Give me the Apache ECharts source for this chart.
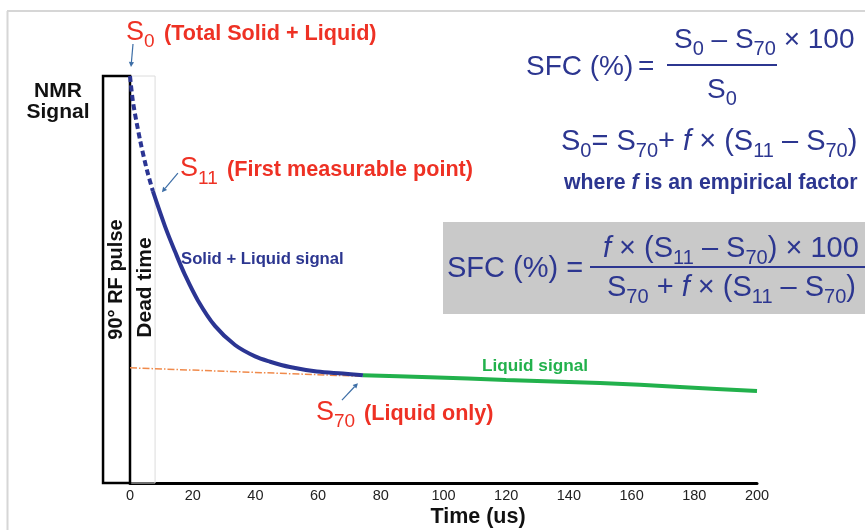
<!DOCTYPE html>
<html><head><meta charset="utf-8">
<script src="https://cdn.jsdelivr.net/npm/echarts@6/dist/echarts.min.js"></script>
<style>html,body{margin:0;padding:0;background:#fff}#c{width:865px;height:530px}</style>
</head><body><div id="c"></div>
<script>
// ---- data ----
const xTicks = [0, 20, 40, 60, 80, 100, 120, 140, 160, 180, 200];
const deadX = [0, 1.0, 3.2, 5.4, 7.3];
const deadY = [100, 93.4, 84.3, 76.9, 71.7];
const decayX = [7.3, 11.2, 14.4, 17.5, 21.7, 27.1, 33.5, 39.9, 44.7, 51.0, 59.6, 67.9, 74.3];
const decayY = [71.7, 63.0, 56.8, 51.2, 44.8, 38.6, 33.9, 31.1, 29.8, 28.5, 27.4, 26.9, 26.5];
const liquidX = [74.3, 95.7, 119.9, 149.9, 175.4, 200];
const liquidY = [26.5, 26.0, 25.3, 24.6, 23.6, 22.6];
const extrapX = [0, 74.3];
const extrapY = [28.3, 26.2];
const pulseBox = [-8.6, 0, 0, 100];   // x0, x1, y0, y1
const deadBox = [0, 8, 0, 100];
const pointS0 = [0, 100], pointS11 = [7.3, 71.7], pointS70 = [74.3, 26.5];

const zip = (xs, ys) => xs.map((x, i) => [x, ys[i]]);
const FF = "'Liberation Sans', Arial, Helvetica, sans-serif";
const NAVY = '#2c3690', RED = '#ee3124', GREEN = '#22b14c', CURVE = '#2b3593';

const cv = document.createElement('canvas').getContext('2d');
function fontStr(s, w, it) { return (it ? 'italic ' : '') + (w || 'normal') + ' ' + s + 'px ' + FF; }
function tw(t, s, w, it) { cv.font = fontStr(s, w, it); return cv.measureText(t).width; }
// text run with baseline alignment; pieces: {t, s, w, it, dy, x, gap}
function run(x, base, pieces, color, z) {
  const els = []; let cx = x;
  pieces.forEach(p => {
    if (p.x != null) cx = p.x;
    if (p.gap) cx += p.gap;
    const b = base + (p.dy || 0);
    els.push({ type: 'text', x: cx, y: b - 0.3465 * p.s, z: z || 50,
      style: { text: p.t, font: fontStr(p.s, p.w, p.it), fill: color, align: 'left', verticalAlign: 'middle' } });
    cx += tw(p.t, p.s, p.w, p.it);
  });
  return els;
}
function boxSeries(box, stroke, lw, z) {
  return { type: 'custom', clip: false, z: z, silent: true,
    data: [box],
    renderItem: (params, api) => {
      const a = api.coord([api.value(0), api.value(3)]);
      const b = api.coord([api.value(1), api.value(2)]);
      return { type: 'rect', shape: { x: a[0], y: a[1], width: b[0] - a[0], height: b[1] - a[1] },
        style: { fill: 'none', stroke: stroke, lineWidth: lw } };
    } };
}

const chart = echarts.init(document.getElementById('c'), null, { renderer: 'canvas' });
const option = {
  animation: false,
  backgroundColor: '#fff',
  grid: { left: 130, right: 108, top: 76, bottom: 47 },
  xAxis: { type: 'value', min: 0, max: 200, interval: 20,
    axisLine: { show: true, lineStyle: { color: '#000', width: 3 } },
    axisTick: { show: false }, splitLine: { show: false },
    axisLabel: { fontSize: 14.5, color: '#222', margin: 5, fontFamily: FF,
      customValues: xTicks } },
  yAxis: { type: 'value', min: 0, max: 100, show: false },
  series: [
    boxSeries(deadBox, '#dcdcdc', 1, 1),
    boxSeries(pulseBox, '#000', 2.5, 3),
    { type: 'line', data: zip(extrapX, extrapY), symbol: 'none', z: 4,
      lineStyle: { color: '#f08a4b', width: 1.5, type: [7, 2, 1.5, 2] } },
    { type: 'line', data: zip(deadX, deadY), symbol: 'none', smooth: 0.3, z: 5,
      lineStyle: { color: CURVE, width: 4, type: [6, 3.5] } },
    { type: 'line', data: zip(decayX, decayY), symbol: 'none', smooth: 0.35, z: 5,
      lineStyle: { color: CURVE, width: 4 } },
    { type: 'line', data: zip(liquidX, liquidY), symbol: 'none', smooth: 0.2, z: 5,
      lineStyle: { color: GREEN, width: 4 } }
  ]
};
chart.setOption(option);

function arrow(from, to, color) {
  const dx = to[0] - from[0], dy = to[1] - from[1], L = Math.hypot(dx, dy);
  const ux = dx / L, uy = dy / L, h = 5, w = 2.6;
  const bx = to[0] - ux * h, by = to[1] - uy * h;
  return [
    { type: 'line', shape: { x1: from[0], y1: from[1], x2: bx, y2: by }, style: { stroke: color, lineWidth: 1.2 }, z: 60 },
    { type: 'polygon', shape: { points: [to, [bx - uy * w, by + ux * w], [bx + uy * w, by - ux * w]] }, style: { fill: color }, z: 60 }
  ];
}
const P = p => chart.convertToPixel({ gridIndex: 0 }, p);
const s0 = P(pointS0), s11 = P(pointS11), s70 = P(pointS70);
const AC = '#3d6ea6';

let g = [];
// frame
g.push({ type: 'line', shape: { x1: 7, y1: 11, x2: 865, y2: 11 }, style: { stroke: '#d6d6d6', lineWidth: 2 } });
g.push({ type: 'line', shape: { x1: 7.5, y1: 11, x2: 7.5, y2: 530 }, style: { stroke: '#d6d6d6', lineWidth: 2 } });
// arrows
g = g.concat(arrow([s0[0] + 3, s0[1] - 32], [s0[0] + 1, s0[1] - 9], AC));
g = g.concat(arrow([s11[0] + 25, s11[1] - 18], [s11[0] + 9, s11[1] + 1], AC));
g = g.concat(arrow([s70[0] - 21, s70[1] + 25], [s70[0] - 5, s70[1] + 8], AC));
// red labels
g = g.concat(run(126, 42, [{ t: 'S', s: 27 }, { t: '0', s: 19, dy: 6 }, { t: '(Total Solid + Liquid)', s: 21.6, w: 'bold', x: 164 }], RED));
g = g.concat(run(180, 178, [{ t: 'S', s: 27 }, { t: '11', s: 19, dy: 7 }, { t: '(First measurable point)', s: 21.6, w: 'bold', x: 227 }], RED));
g = g.concat(run(316, 422, [{ t: 'S', s: 27 }, { t: '70', s: 19, dy: 6 }, { t: '(Liquid only)', s: 21.6, w: 'bold', x: 364 }], RED));
// curve labels
g = g.concat(run(181, 265, [{ t: 'Solid + Liquid signal', s: 16.7, w: 'bold' }], NAVY));
g = g.concat(run(482, 372, [{ t: 'Liquid signal', s: 17.2, w: 'bold' }], GREEN));
// NMR Signal
g.push({ type: 'text', x: 58, y: 98 - 0.3465 * 21, style: { text: 'NMR', font: fontStr(21, 'bold'), fill: '#111', align: 'center', verticalAlign: 'middle' } });
g.push({ type: 'text', x: 58, y: 119 - 0.3465 * 21, style: { text: 'Signal', font: fontStr(21, 'bold'), fill: '#111', align: 'center', verticalAlign: 'middle' } });
// rotated labels
g.push({ type: 'text', x: 116, y: 279.5, rotation: Math.PI / 2, style: { text: '90° RF pulse', font: fontStr(20, 'bold'), fill: '#111', align: 'center', verticalAlign: 'middle' } });
g.push({ type: 'text', x: 145, y: 287.5, rotation: Math.PI / 2, style: { text: 'Dead time', font: fontStr(21, 'bold'), fill: '#111', align: 'center', verticalAlign: 'middle' } });
// axis title
g.push({ type: 'text', x: 478, y: 517, style: { text: 'Time (us)', font: fontStr(21.5, 'bold'), fill: '#111', align: 'center', verticalAlign: 'middle' } });

// formula 1
g = g.concat(run(526, 77, [{ t: 'SFC (%)', s: 28 }, { t: '=', s: 28, x: 638 }], NAVY));
g = g.concat(run(674, 50, [{ t: 'S', s: 28 }, { t: '0', s: 20, dy: 6 }, { t: ' – S', s: 28 }, { t: '70', s: 20, dy: 6 }, { t: ' × 100', s: 28 }], NAVY));
g.push({ type: 'line', shape: { x1: 667, y1: 65, x2: 777, y2: 65 }, style: { stroke: NAVY, lineWidth: 2 } });
g = g.concat(run(707, 100, [{ t: 'S', s: 28 }, { t: '0', s: 20, dy: 6 }], NAVY));
// formula 2
g = g.concat(run(561, 152, [{ t: 'S', s: 29 }, { t: '0', s: 20, dy: 6 }, { t: '= S', s: 29 }, { t: '70', s: 20, dy: 6 }, { t: '+ ', s: 29 }, { t: 'f', s: 29, it: true }, { t: ' × (S', s: 29 }, { t: '11', s: 20, dy: 6 }, { t: ' – S', s: 29 }, { t: '70', s: 20, dy: 6 }, { t: ')', s: 29 }], NAVY));
g = g.concat(run(564, 190, [{ t: 'where ', s: 21.3, w: 'bold' }, { t: 'f', s: 21.3, w: 'bold', it: true }, { t: ' is an empirical factor', s: 21.3, w: 'bold' }], NAVY));
// grey box formula
g.push({ type: 'rect', shape: { x: 443, y: 222, width: 430, height: 92 }, style: { fill: '#c9c9c9' }, z: 10 });
g = g.concat(run(447, 279, [{ t: 'SFC (%) =', s: 29 }], NAVY, 51));
g = g.concat(run(603, 259, [{ t: 'f', s: 29, it: true }, { t: ' × (S', s: 29 }, { t: '11', s: 20, dy: 6 }, { t: ' – S', s: 29 }, { t: '70', s: 20, dy: 6 }, { t: ') × 100', s: 29 }], NAVY, 51));
g.push({ type: 'line', shape: { x1: 590, y1: 267, x2: 865, y2: 267 }, style: { stroke: NAVY, lineWidth: 2 }, z: 51 });
g = g.concat(run(607, 298, [{ t: 'S', s: 29 }, { t: '70', s: 20, dy: 6 }, { t: ' + ', s: 29 }, { t: 'f', s: 29, it: true }, { t: ' × (S', s: 29 }, { t: '11', s: 20, dy: 6 }, { t: ' – S', s: 29 }, { t: '70', s: 20, dy: 6 }, { t: ')', s: 29 }], NAVY, 51));

chart.setOption({ graphic: { elements: g } });
</script>
</body></html>
